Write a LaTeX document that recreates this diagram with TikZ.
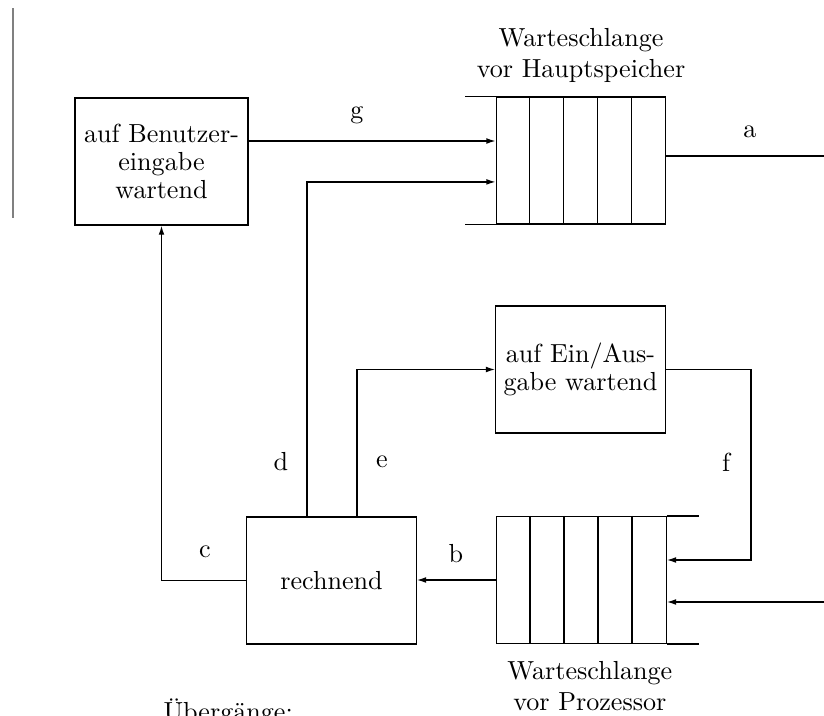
\documentclass[tikz,border=0pt]{standalone}
\usepackage{tikz}
\usetikzlibrary{arrows.meta,positioning}

\begin{document}
\begin{tikzpicture}[x=0.383pt, y=-0.383pt, line width=0.5pt,
    box/.style={draw, inner sep=0pt, minimum width=64.9pt, minimum height=48.6pt,
      align=center, font=\fontsize{10}{10.8}\selectfont},
    queue/.style={draw, inner sep=0pt, minimum width=64.9pt, minimum height=48.6pt},
    marke/.style={inner sep=0pt, font=\fontsize{10}{12}\selectfont},
    wstitel/.style={align=center, inner sep=0pt, font=\fontsize{10}{11.9}\selectfont},
    arr/.style={-{Latex[length=3.5pt,width=2.2pt]}}]
    \useasboundingbox (0,0) rectangle (824,715);
    \clip (0,0) rectangle (824,715);

    % linker Rand
    \draw[black!50] (13,8) -- (13,218);

    % Zustaende
    \node[box, minimum width=66.3pt] (user) at (161.5,161.5) {auf Benutzer-\\eingabe\\wartend};
    \node[box] (io) at (580.5,369.5) {auf Ein/Aus-\\gabe wartend};
    \node[box] (cpu) at (331.5,580.5) {rechnend};

    % Warteschlangen
    \node[queue] (hsq) at (581,160.5) {};
    \node[queue] (pzq) at (581.5,580) {};
    \foreach \q in {hsq,pzq}
        \foreach \i in {1,...,4}
            \draw ([xshift=\i*13pt]\q.north west) -- ([xshift=\i*13pt]\q.south west);
    \draw (hsq.north west) -- ++(-31,0);
    \draw (hsq.south west) -- ++(-31,0);
    \draw (pzq.north east) -- ++(32,0);
    \draw (pzq.south east) -- ++(32,0);

    % Beschriftung der Warteschlangen
    \node[wstitel, above=4.9pt of hsq] (hsqtitel) {Warteschlange\\vor Hauptspeicher};
    \node[wstitel, below=6.5pt of pzq, xshift=3.2pt] (pzqtitel) {Warteschlange\\vor Prozessor};

    % Hilfspunkte
    \coordinate (gstart) at ([yshift=7.85pt]user.east);
    \coordinate (dstart) at ([xshift=-9.4pt]cpu.north);
    \coordinate (dend) at ([yshift=-8.2pt]hsq.west);
    \coordinate (estart) at ([xshift=9.8pt]cpu.north);
    \coordinate (astart) at ([yshift=1.7pt]hsq.east);
    \coordinate (aout) at (824,156);
    \coordinate (fknick) at (751,367);
    \coordinate (fend) at ([yshift=7.66pt]pzq.east);
    \coordinate (rin) at (824,602);

    % Uebergaenge
    \draw[arr] (gstart) -- (gstart -| hsq.west);
    \draw (astart) -- (astart -| aout);
    \draw[arr] (pzq.west) -- (pzq.west -| cpu.east);
    \draw[arr] (cpu.west) -| (user.south);
    \draw[arr] (dstart) |- (dend);
    \draw[arr] (estart) |- (io.west);
    \draw[arr] (io.east) -- (io.east -| fknick) |- (fend);
    \draw[arr] (rin) -- (rin -| pzq.east);

    % Buchstaben
    \node[marke] (lg) at (357,115) {g};
    \node[marke] (la) at (750,132) {a};
    \node[marke] (lb) at (456,554) {b};
    \node[marke] (lc) at (205,552) {c};
    \node[marke] (ld) at (281,462) {d};
    \node[marke] (le) at (382,462) {e};
    \node[marke] (lf) at (726,462) {f};

    \node[anchor=base west, inner sep=0pt] (uebergaenge) at (163,720) {Übergänge:};
\end{tikzpicture}
\end{document}
